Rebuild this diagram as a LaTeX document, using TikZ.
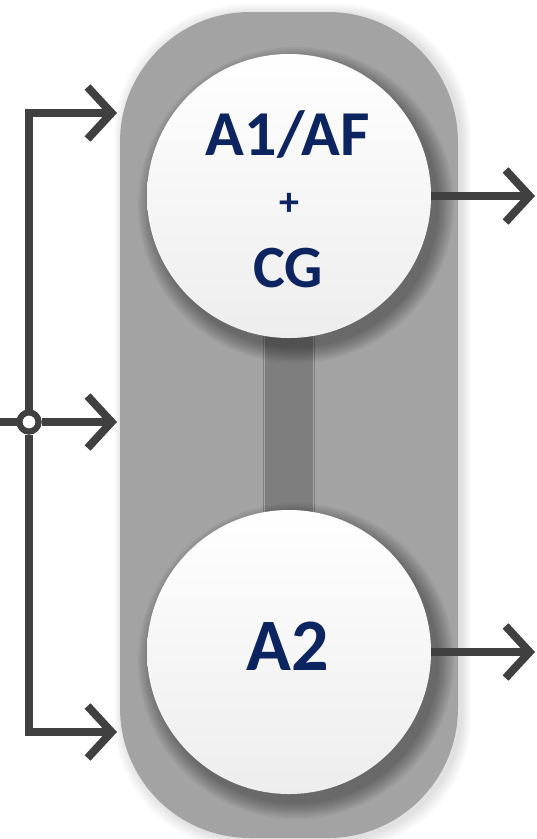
\documentclass[tikz,border=0pt]{standalone}
\usepackage{fontspec}
\setmainfont{Carlito}
\usetikzlibrary{arrows.meta}
\definecolor{navy}{RGB}{12,36,96}
\definecolor{linegray}{RGB}{64,64,64}
\definecolor{pillgray}{RGB}{163,163,163}
\definecolor{bargray}{RGB}{126,126,126}
\begin{document}
\begin{tikzpicture}[x=1pt,y=-1pt,
  conn/.style={draw=linegray, line width=8pt, line join=miter},
  arr/.style={conn, -{Straight Barb[length=24pt,width=52pt]}},
  ball/.style={circle, minimum size=284pt, inner sep=0pt, top color=white, bottom color=black!7, draw=none},
  lbl/.style={text=navy, font=\bfseries, inner sep=0pt},
  junc/.style={circle, draw=linegray, line width=6pt, fill=white, minimum size=19pt, inner sep=0pt}]
\useasboundingbox (0,0) rectangle (537,839);
% pill shadow
\foreach \k in {1,...,6}{
  \fill[black, opacity=0.02, rounded corners=130pt] ({124-\k*1.6},{14-\k*1.6}) rectangle ({461+\k*1.6},{840+\k*1.6});
}
% pill
\fill[pillgray, rounded corners=130pt] (120,12) rectangle (458,838);
% bar
\fill[bargray] (263,330) rectangle (315,520);
\draw[black!35, line width=1.2pt] (264.5,330) -- (264.5,520) (313.5,330) -- (313.5,520);
% circle shadows
\foreach \cy in {196,652}{
  \foreach \k in {0,...,9}{
    \fill[black, opacity=0.04] (296,\cy+9) circle ({158-\k*1.7});
  }
}
% circles
\node[ball] (c1) at (289,196) {};
\node[ball] (c2) at (289,652) {};
% labels
\node[lbl, anchor=base, font=\bfseries\fontsize{64}{64}\selectfont] (t1) at (288,155) {A1/AF};
\node[lbl, anchor=center, font=\bfseries\fontsize{40}{40}\selectfont] (t2) at (289,204) {+};
\node[lbl, anchor=base, font=\bfseries\fontsize{60}{60}\selectfont] (t3) at (288,287) {CG};
\node[lbl, anchor=base, font=\bfseries\fontsize{74}{74}\selectfont] (t4) at (288,670) {A2};
% connectors
\node[junc] (j) at (29,422) {};
\coordinate (s) at (0,422);
\coordinate (ta) at (117,113);
\coordinate (ma) at (117,422);
\coordinate (ba) at (117,732);
\coordinate (o1) at (535,196);
\coordinate (o2) at (535,652);
\draw[conn] (s) -- (j);
\draw[arr] (j) |- (ta);
\draw[arr] (j) -- (ma);
\draw[arr] (j) |- (ba);
\draw[arr] (c1.east) -- (o1);
\draw[arr] (c2.east) -- (o2);
\node[junc] at (j) {};
\end{tikzpicture}
\end{document}
